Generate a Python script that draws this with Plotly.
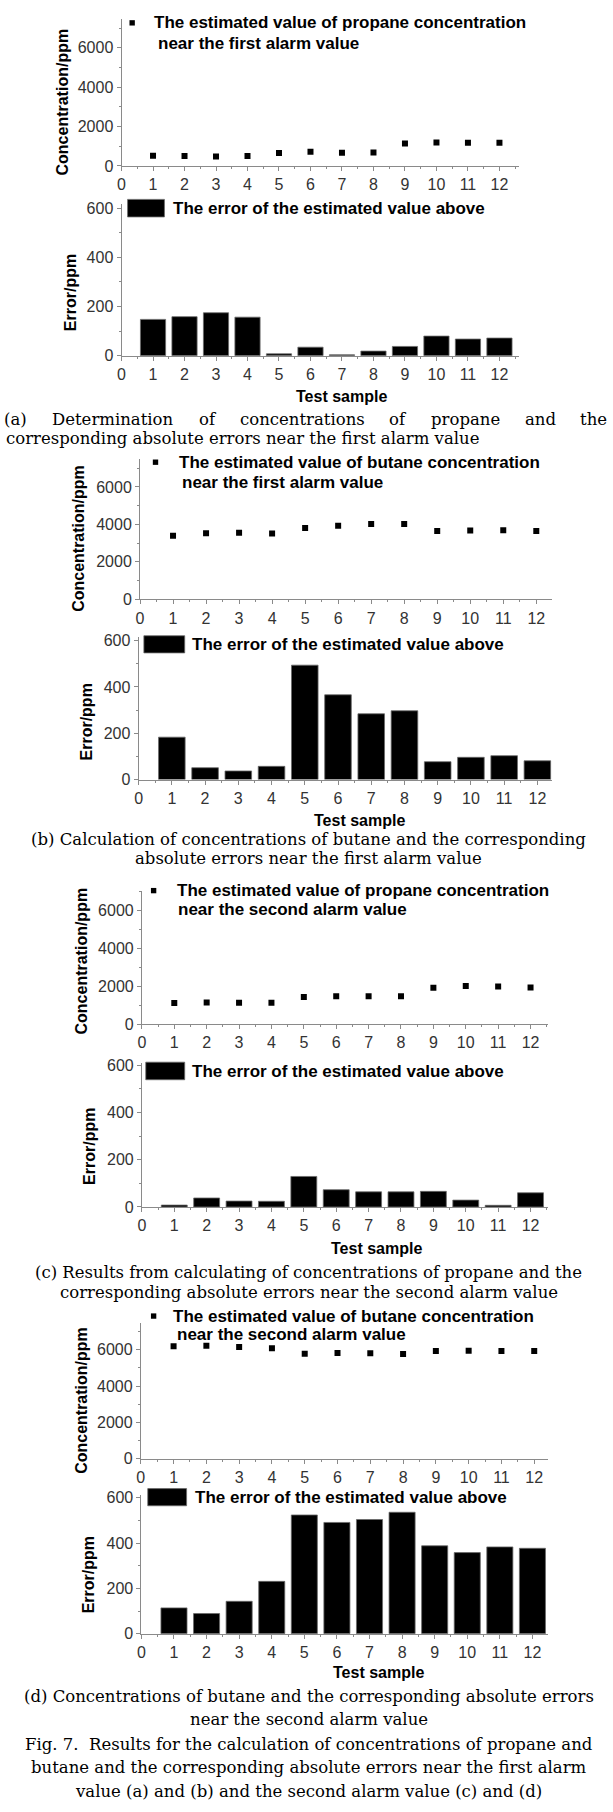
import plotly.graph_objects as go

W, H = 613, 1812

# ---------------- data ----------------
samples = list(range(1, 13))
x_tick_vals = list(range(0, 13))

propane_first_est = [521, 504, 487, 504, 655, 723, 672, 689, 1143, 1193, 1176, 1176]
propane_first_err = [148, 159, 175, 157, 8, 35, 4, 19, 38, 80, 68, 72]

butane_first_est = [3391, 3530, 3548, 3513, 3809, 3930, 4017, 4017, 3652, 3670, 3687, 3652]
butane_first_err = [183, 51, 37, 57, 494, 366, 284, 297, 77, 96, 103, 81]

propane_second_est = [1113, 1148, 1130, 1130, 1426, 1478, 1478, 1478, 1913, 2017, 1983, 1930]
propane_second_err = [8, 38, 25, 24, 129, 73, 64, 64, 66, 29, 7, 60]

butane_second_est = [6182, 6218, 6145, 6073, 5782, 5818, 5800, 5764, 5927, 5945, 5927, 5927]
butane_second_err = [114, 89, 143, 231, 524, 491, 504, 536, 388, 358, 383, 377]

scatter_legends = [
    ("The estimated value of propane concentration", "near the first alarm value"),
    ("The estimated value of butane concentration", "near the first alarm value"),
    ("The estimated value of propane concentration", "near the second alarm value"),
    ("The estimated value of butane concentration", "near the second alarm value"),
]
bar_legend = "The error of the estimated value above"
y_title_conc = "Concentration/ppm"
y_title_err = "Error/ppm"
x_title = "Test sample"

captions = [
    ["(a) Determination of concentrations of propane and the".split(" "),
     "corresponding absolute errors near the first alarm value"],
    ["(b) Calculation of concentrations of butane and the corresponding",
     "absolute errors near the first alarm value"],
    ["(c) Results from calculating of concentrations of propane and the",
     "corresponding absolute errors near the second alarm value"],
    ["(d) Concentrations of butane and the corresponding absolute errors",
     "near the second alarm value"],
]
fig_caption = [
    "Fig. 7.\u00a0 Results for the calculation of concentrations of propane and",
    "butane and the corresponding absolute errors near the first alarm",
    "value (a) and (b) and the second alarm value (c) and (d)",
]

est_series = [propane_first_est, butane_first_est, propane_second_est, butane_second_est]
err_series = [propane_first_err, butane_first_err, propane_second_err, butane_second_err]

# ---------------- layout geometry (pixels) ----------------
scatter_geo = [
    dict(x0=118.3, unit=31.7, xmax=12.62, y0=161.3, ppu=39.7 / 2000, ymax=7470),
    dict(x0=136.9, unit=33.24, xmax=12.47, y0=598.3, ppu=37.8 / 2000, ymax=7500),
    dict(x0=138.8, unit=32.6, xmax=12.54, y0=1026.7, ppu=38.3 / 2000, ymax=7000),
    dict(x0=137.7, unit=33.0, xmax=12.42, y0=1465.0, ppu=36.7 / 2000, ymax=7470),
]
bar_geo = [
    dict(x0=118.3, unit=31.7, xmax=12.62, y0=352.7, ppu=49.6 / 200, ymax=618),
    dict(x0=135.5, unit=33.45, xmax=12.43, y0=780.0, ppu=46.7 / 200, ymax=615),
    dict(x0=138.8, unit=32.6, xmax=12.54, y0=1211.0, ppu=47.7 / 200, ymax=610),
    dict(x0=138.3, unit=32.8, xmax=12.48, y0=1641.3, ppu=45.7 / 200, ymax=610),
]
scatter_leg_pos = [
    dict(mx=129.0, tx=149.3, ty=17.0, t2x=152.5, t2y=37.7),
    dict(mx=152.5, tx=174.0, ty=460.0, t2x=176.8, t2y=480.0),
    dict(mx=150.6, tx=172.0, ty=892.0, t2x=172.9, t2y=911.0),
    dict(mx=150.6, tx=168.0, ty=1321.0, t2x=172.0, t2y=1340.0),
]
bar_leg_pos = [
    dict(rx0=124.4, rx1=161.5, ry0=195.0, ry1=212.7, tx=168.2, ty=204.0),
    dict(rx0=140.8, rx1=181.9, ry0=635.0, ry1=652.3, tx=187.7, ty=644.0),
    dict(rx0=142.7, rx1=181.9, ry0=1065.0, ry1=1082.7, tx=187.7, ty=1074.0),
    dict(rx0=144.7, rx1=183.8, ry0=1495.0, ry1=1512.3, tx=190.5, ty=1504.0),
]
ytitle_conc_pos = [(58.7, 97.0), (74.3, 536.5), (78.0, 963.0), (78.0, 1406.0)]
ytitle_err_pos = [(67.0, 289.0), (83.0, 722.0), (86.0, 1150.0), (85.0, 1582.0)]
xtitle_pos = [(340.0, 393.3), (357.8, 821.7), (375.4, 1252.7), (377.4, 1680.7)]
caption_y = [(416.7, 436.5), (840.0, 860.0), (1276.7, 1297.0), (1705.0, 1728.3)]
caption_a_word_center = [11.7, 109.8, 205.0, 300.8, 396.6, 464.9, 539.7, 593.5]
fig_caption_y = [1753.0, 1776.5, 1800.0]

SANS = "Liberation Sans, Arial, Helvetica, sans-serif"
SERIF = "DejaVu Serif, Liberation Serif, Times New Roman, serif"
CAP_SIZE = 16.5
AX = "#8a8a8a"
TICKFONT = dict(family=SANS, size=16, color="#333333")


def fx(px):
    return px / W


def fy(py):
    return 1 - py / H


fig = go.Figure()
annotations = []
shapes = []


def ann(text, x, y, size, family=SANS, bold=False, xanchor="left", angle=0, color="black"):
    annotations.append(dict(
        text=text, x=fx(x), y=fy(y), xref="paper", yref="paper",
        xanchor=xanchor, yanchor="middle", showarrow=False, textangle=angle,
        font=dict(family=family, size=size, color=color, weight="bold" if bold else "normal"),
    ))


def axes(idx, g, ydtick, yminor):
    xd = [fx(g["x0"]), fx(g["x0"] + g["xmax"] * g["unit"])]
    yd = [fy(g["y0"]), fy(g["y0"] - g["ymax"] * g["ppu"])]
    sfx = "" if idx == 1 else str(idx)
    fig.layout["xaxis" + sfx] = dict(
        domain=xd, range=[0, g["xmax"]], anchor="y" + sfx,
        tickmode="array", tickvals=x_tick_vals, ticks="outside", ticklen=4,
        tickcolor=AX, tickwidth=1, showline=True, linecolor=AX, linewidth=1,
        showgrid=False, zeroline=False, tickfont=TICKFONT, fixedrange=True,
        minor=dict(dtick=0.5, tick0=0, ticks="outside", ticklen=2, tickcolor=AX, showgrid=False),
    )
    fig.layout["yaxis" + sfx] = dict(
        domain=yd, range=[0, g["ymax"]], anchor="x" + sfx,
        tick0=0, dtick=ydtick, ticks="outside", ticklen=4,
        tickcolor=AX, tickwidth=1, showline=True, linecolor=AX, linewidth=1,
        showgrid=False, zeroline=False, tickfont=TICKFONT, fixedrange=True,
        minor=dict(dtick=yminor, tick0=0, ticks="outside", ticklen=2, tickcolor=AX, showgrid=False),
    )
    return "x" + sfx, "y" + sfx


for i in range(4):
    xa, ya = axes(2 * i + 1, scatter_geo[i], 2000, 1000)
    fig.add_trace(go.Scatter(
        x=samples, y=est_series[i], mode="markers", xaxis=xa, yaxis=ya,
        marker=dict(symbol="square", size=6, color="black", line=dict(width=0)),
        showlegend=False, hoverinfo="skip",
    ))
    xb, yb = axes(2 * i + 2, bar_geo[i], 200, 100)
    fig.add_trace(go.Bar(
        x=samples, y=err_series[i], xaxis=xb, yaxis=yb, width=0.8,
        marker=dict(color="black", line=dict(color="#6a6a6a", width=0.8)),
        showlegend=False, hoverinfo="skip",
    ))

    lp = scatter_leg_pos[i]
    s = 2.7
    shapes.append(dict(type="rect", xref="paper", yref="paper",
                       x0=fx(lp["mx"] - s), x1=fx(lp["mx"] + s),
                       y0=fy(lp["ty"] + s), y1=fy(lp["ty"] - s),
                       fillcolor="black", line=dict(width=0)))
    ann(scatter_legends[i][0], lp["tx"], lp["ty"], 17, bold=True)
    ann(scatter_legends[i][1], lp["t2x"], lp["t2y"], 17, bold=True)

    bp = bar_leg_pos[i]
    shapes.append(dict(type="rect", xref="paper", yref="paper",
                       x0=fx(bp["rx0"]), x1=fx(bp["rx1"]),
                       y0=fy(bp["ry1"]), y1=fy(bp["ry0"]),
                       fillcolor="black", line=dict(color="#6a6a6a", width=0.8)))
    ann(bar_legend, bp["tx"], bp["ty"], 17, bold=True)

    ann(y_title_conc, *ytitle_conc_pos[i], 16, bold=True, xanchor="center", angle=-90)
    ann(y_title_err, *ytitle_err_pos[i], 16, bold=True, xanchor="center", angle=-90)
    ann(x_title, *xtitle_pos[i], 16, bold=True, xanchor="center")

    c1, c2 = captions[i]
    y1, y2 = caption_y[i]
    if i == 0:
        for word, cx in zip(c1, caption_a_word_center):
            ann(word, cx, y1, CAP_SIZE, family=SERIF, xanchor="center")
        ann(c2, 0.0, y2, CAP_SIZE, family=SERIF, xanchor="left")
    else:
        ann(c1, W / 2, y1, CAP_SIZE, family=SERIF, xanchor="center")
        ann(c2, W / 2, y2, CAP_SIZE, family=SERIF, xanchor="center")

for line, y in zip(fig_caption, fig_caption_y):
    ann(line, W / 2, y, CAP_SIZE, family=SERIF, xanchor="center")

fig.update_layout(
    width=W, height=H, autosize=False,
    margin=dict(l=0, r=0, t=0, b=0, pad=0),
    paper_bgcolor="white", plot_bgcolor="white",
    showlegend=False, bargap=0.2,
    annotations=annotations, shapes=shapes,
)

fig.write_html("out.html", config={"displayModeBar": False, "responsive": False})
